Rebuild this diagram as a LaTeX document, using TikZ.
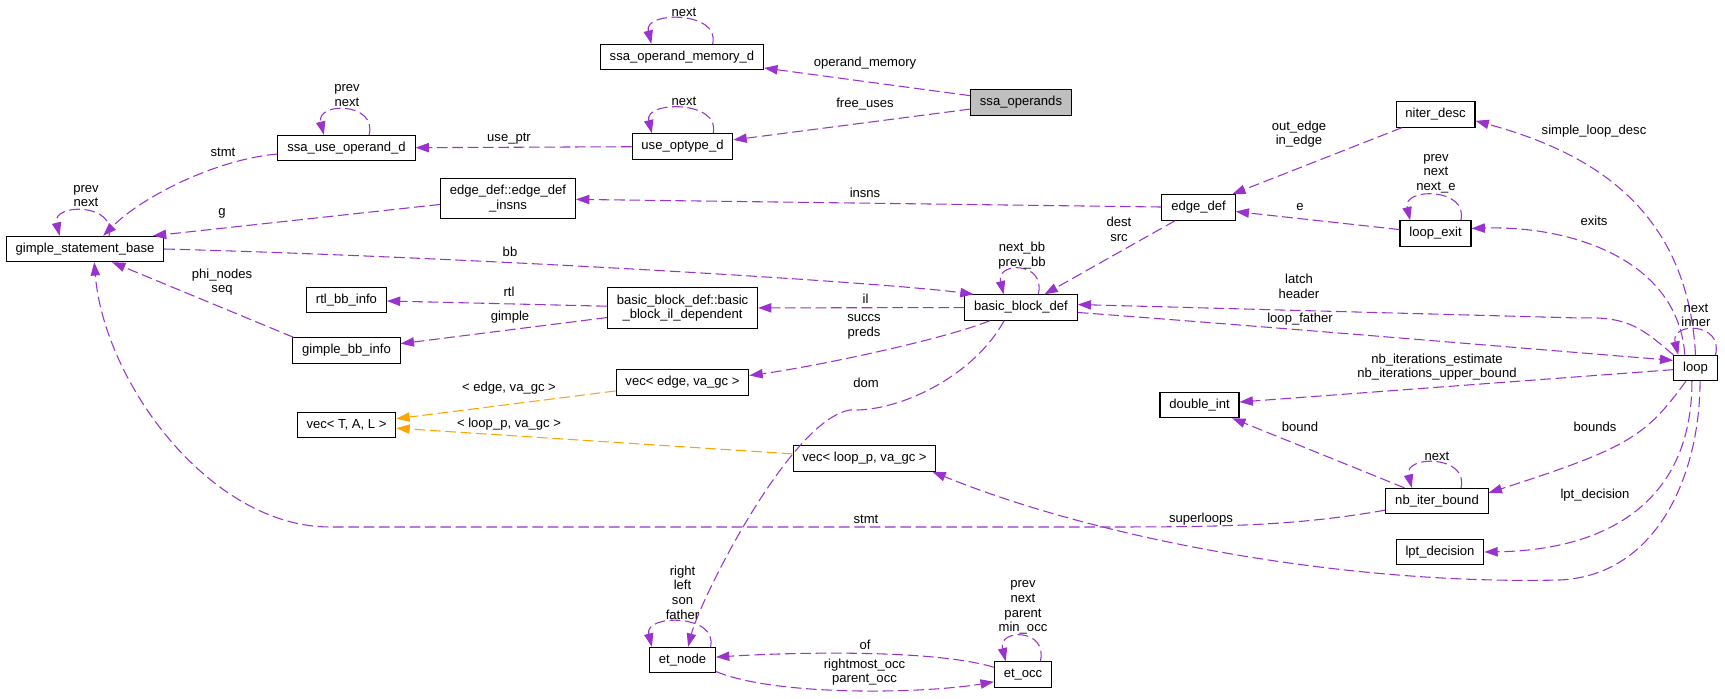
\documentclass[tikz,border=0pt]{standalone}
\usepackage{fontspec}
\setmainfont{Liberation Sans}
\usetikzlibrary{arrows.meta}
\definecolor{orchid}{HTML}{9A32CD}
\definecolor{tmplorange}{HTML}{FFA500}
\definecolor{grey75}{HTML}{BFBFBF}

\begin{document}
\begin{tikzpicture}[
        x=0.75pt, y=-0.75pt,
        cls/.style={rectangle, draw, line width=0.8pt, fill=white, minimum height=19pt, inner xsep=7pt, inner ysep=2pt, align=center, font=\fontsize{9.8}{11}\selectfont},
        cls2/.style={cls, minimum height=30.5pt},
        cur/.style={cls, fill=grey75},
        lbl/.style={inner sep=0pt, align=center, font=\fontsize{9.8}{11}\selectfont},
        arrow/.style={draw=orchid, line width=0.8pt, dash pattern=on 8pt off 3.5pt, -{Triangle[length=10pt, width=7pt]}},
        tmplarrow/.style={arrow, draw=tmplorange}
    ]
        \useasboundingbox (0,0) rectangle (1725,699);

        % Classes
        \node[cur] (ops) at (1021,102.5) {ssa\_operands};
        \node[cls] (mem) at (682,57) {ssa\_operand\_memory\_d};
        \node[cls] (uot) at (682.5,146.5) {use\_optype\_d};
        \node[cls] (suo) at (346.5,148) {ssa\_use\_operand\_d};
        \node[cls2] (edi) at (508,198.5) {edge\_def::edge\_def\\\_insns};
        \node[cls] (gsb) at (85,249) {gimple\_statement\_base};
        \node[cls] (rtl) at (346.5,300) {rtl\_bb\_info};
        \node[cls] (gbi) at (346.5,350.5) {gimple\_bb\_info};
        \node[cls2] (bbil) at (682.5,308) {basic\_block\_def::basic\\\_block\_il\_dependent};
        \node[cls] (bbd) at (1021,307.5) {basic\_block\_def};
        \node[cls] (edf) at (1198.5,207.5) {edge\_def};
        \node[cls] (nid) at (1435.5,114.5) {niter\_desc};
        \node[cls] (lex) at (1435.5,233.5) {loop\_exit};
        \node[cls] (loop) at (1695.5,368) {loop};
        \node[cls] (dint) at (1199.5,405) {double\_int};
        \node[cls] (nib) at (1437,501) {nb\_iter\_bound};
        \node[cls] (lpt) at (1440,552) {lpt\_decision};
        \node[cls] (vece) at (682.5,382.5) {vec< edge, va\_gc >};
        \node[cls] (vect) at (346.5,425) {vec< T, A, L >};
        \node[cls] (vecl) at (864.5,458.5) {vec< loop\_p, va\_gc >};
        \node[cls] (etn) at (682.5,660) {et\_node};
        \node[cls] (eto) at (1023,674.5) {et\_occ};

        % Members
        \draw[arrow] (ops) -- (mem);
        \draw[arrow] (ops) -- (uot);
        \draw[arrow] ([xshift=23pt]mem.north) .. controls +(8,-33) and +(-8,-33) .. ([xshift=-23pt]mem.north);
        \draw[arrow] ([xshift=23pt]uot.north) .. controls +(8,-33) and +(-8,-33) .. ([xshift=-23pt]uot.north);
        \draw[arrow] (uot) -- (suo);
        \draw[arrow] ([xshift=17pt]suo.north) .. controls +(8,-33) and +(-8,-33) .. ([xshift=-17pt]suo.north);
        \draw[arrow] (suo.185) .. controls +(-60,5) and +(40,-40) .. (gsb.36);
        \draw[arrow] (edi.185) -- (gsb.11);
        \draw[arrow] ([xshift=18pt]gsb.north) .. controls +(8,-33) and +(-8,-33) .. ([xshift=-19pt]gsb.north);
        \draw[arrow] (gsb.east) .. controls +(300,8) and +(-100,-13) .. ([xshift=7pt]bbd.north west);
        \draw[arrow] (gbi.166) -- (gsb.-26);
        \draw[arrow] (nib.190) .. controls +(-90,16) and +(120,0) .. (1100,527) -- (330,527) .. controls +(-120,0) and +(10,120) .. (gsb.-55);
        \draw[arrow] (bbil) -- (rtl);
        \draw[arrow] (bbil) -- (gbi);
        \draw[arrow] (bbd) -- (bbil);
        \draw[arrow] ([xshift=13pt]bbd.north) .. controls +(8,-33) and +(-8,-33) .. ([xshift=-13pt]bbd.north);
        \draw[arrow] (edf) -- (edi);
        \draw[arrow] (edf) -- (bbd);
        \draw[arrow] (nid) -- (edf);
        \draw[arrow] (lex) -- (edf);
        \draw[arrow] ([xshift=19pt]lex.north) .. controls +(8,-33) and +(-8,-33) .. ([xshift=-19pt]lex.north);
        \draw[arrow] (loop.90) .. controls +(-8,-150) and +(110,30) .. (nid.-9);
        \draw[arrow] (loop.129) .. controls +(-7,-95) and +(100,-3) .. (lex.8);
        \draw[arrow] (loop.north west) .. controls +(-30,-25) and +(50,-2) .. (1580,318) -- (bbd.3);
        \draw[arrow] (bbd.-5) .. controls +(200,15) and +(-150,-12) .. (loop.161);
        \draw[arrow] ([xshift=15pt]loop.north) .. controls +(8,-33) and +(-8,-33) .. ([xshift=-13pt]loop.north);
        \draw[arrow] (loop) -- (dint);
        \draw[arrow] (loop.-126) .. controls +(-40,55) and +(140,-45) .. (nib.9);
        \draw[arrow] ([xshift=18pt]nib.north) .. controls +(8,-33) and +(-8,-33) .. ([xshift=-19pt]nib.north);
        \draw[arrow] (nib) -- (dint);
        \draw[arrow] (loop.-105) .. controls +(0,119) and +(125,-2) .. (lpt.east);
        \draw[arrow] (loop.-71) .. controls +(0,89) and +(100,-5) .. (1560,580) .. controls +(-210,5) and +(170,69) .. (vecl.-11);
        \draw[arrow] (bbd.-157) .. controls +(-50,20) and +(60,-8) .. (vece.6);
        \draw[tmplarrow] (vece) -- (vect);
        \draw[tmplarrow] (vecl) -- (vect);
        \draw[arrow] (bbd.-142) .. controls +(-30,55) and +(50,2) .. (850,410) .. controls +(-60,10) and +(12,-47) .. (etn.67);
        \draw[arrow] ([xshift=21pt]etn.north) .. controls +(8,-33) and +(-8,-33) .. ([xshift=-23pt]etn.north);
        \draw[arrow] (eto.166) .. controls +(-60,-18) and +(80,-5) .. (etn.5);
        \draw[arrow] (etn.-19) .. controls +(60,25) and +(-70,12) .. (eto.-166);
        \draw[arrow] ([xshift=13pt]eto.north) .. controls +(8,-33) and +(-8,-33) .. ([xshift=-13pt]eto.north);

        % Labels
        \node[lbl] (memnext) at (684,12) {next};
        \node[lbl] (opmem) at (865,63) {operand\_memory};
        \node[lbl] (freeuses) at (865,104) {free\_uses};
        \node[lbl] (uotnext) at (684,101) {next};
        \node[lbl] (useptr) at (509,139) {use\_ptr};
        \node[lbl] (suoloop) at (347,95.5) {prev\\next};
        \node[lbl] (suostmt) at (223,152) {stmt};
        \node[lbl] (glbl) at (222,213) {g};
        \node[lbl] (gsbloop) at (86,196) {prev\\next};
        \node[lbl] (bblbl) at (510,252) {bb};
        \node[lbl] (rtllbl) at (509,292) {rtl};
        \node[lbl] (gimplelbl) at (510,317) {gimple};
        \node[lbl] (philbl) at (222,282) {phi\_nodes\\seq};
        \node[lbl] (insnslbl) at (865,193) {insns};
        \node[lbl] (bbdloop) at (1022,255.5) {next\_bb\\prev\_bb};
        \node[lbl] (illbl) at (865.5,299) {il};
        \node[lbl] (succslbl) at (864,327) {succs\\preds};
        \node[lbl] (destlbl) at (1119,229.5) {dest\\src};
        \node[lbl] (edgelbl) at (1299,134) {out\_edge\\in\_edge};
        \node[lbl] (elbl) at (1300,207) {e};
        \node[lbl] (lexloop) at (1436,173.5) {prev\\next\\next\_e};
        \node[lbl] (desclbl) at (1594,131) {simple\_loop\_desc};
        \node[lbl] (exitslbl) at (1594,221) {exits};
        \node[lbl] (latchlbl) at (1299,286.5) {latch\\header};
        \node[lbl] (fatherlbl) at (1300,319) {loop\_father};
        \node[lbl] (looploop) at (1696,315.5) {next\\inner};
        \node[lbl] (niterlbl) at (1437,367) {nb\_iterations\_estimate\\nb\_iterations\_upper\_bound};
        \node[lbl] (boundlbl) at (1300,427) {bound};
        \node[lbl] (boundslbl) at (1595,427) {bounds};
        \node[lbl] (nibloop) at (1437,456) {next};
        \node[lbl] (lptlbl) at (1595,495) {lpt\_decision};
        \node[lbl] (superlbl) at (1201,519) {superloops};
        \node[lbl] (nibstmt) at (866,519) {stmt};
        \node[lbl] (domlbl) at (866,383) {dom};
        \node[lbl] (edgeinst) at (509,388) {< edge, va\_gc >};
        \node[lbl] (loopinst) at (509,424) {< loop\_p, va\_gc >};
        \node[lbl] (etnloop) at (682.5,592.5) {right\\left\\son\\father};
        \node[lbl] (etoloop) at (1023,607.5) {prev\\next\\parent\\min\_occ};
        \node[lbl] (oflbl) at (865,645) {of};
        \node[lbl] (occlbl) at (864.5,672) {rightmost\_occ\\parent\_occ};
    \end{tikzpicture}
\end{document}
